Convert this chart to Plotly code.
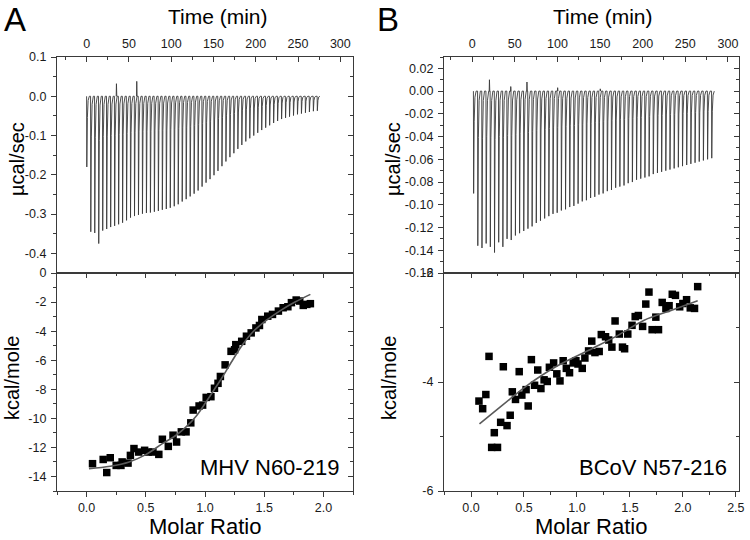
import plotly.graph_objects as go

# ---------------- data ----------------
# Panel A raw thermogram (MHV N60-219): injection times (min) and peak power (ucal/sec)
timeA = [0.0, 4.7, 9.4, 14.1, 18.8, 23.5, 28.2, 32.9, 37.6, 42.3, 47.0, 51.7, 56.4, 61.1, 65.8,
         70.5, 75.2, 79.9, 84.6, 89.3, 94.0, 98.7, 103.4, 108.1, 112.8, 117.5, 122.2, 126.9,
         131.6, 136.3, 141.0, 145.7, 150.4, 155.1, 159.8, 164.5, 169.2, 173.9, 178.6, 183.3,
         188.0, 192.7, 197.4, 202.1, 206.8, 211.5, 216.2, 220.9, 225.6, 230.3, 235.0, 239.7,
         244.4, 249.1, 253.8, 258.5, 263.2, 267.9, 272.6]
peakA = [-0.180, -0.345, -0.348, -0.375, -0.342, -0.338, -0.333, -0.330, -0.326, -0.322, -0.316,
         -0.309, -0.305, -0.302, -0.299, -0.297, -0.296, -0.294, -0.292, -0.289, -0.287, -0.284,
         -0.280, -0.275, -0.268, -0.262, -0.255, -0.248, -0.240, -0.230, -0.220, -0.211, -0.201,
         -0.190, -0.178, -0.166, -0.155, -0.145, -0.134, -0.124, -0.115, -0.107, -0.100, -0.093,
         -0.086, -0.080, -0.074, -0.068, -0.063, -0.058, -0.055, -0.052, -0.049, -0.046, -0.044,
         -0.042, -0.040, -0.038, -0.037]
artTimeA = [35.0, 59.0]
artValA = [0.032, 0.038]

# Panel B raw thermogram (BCoV N57-216)
timeB = [1.5, 6.4, 11.3, 16.2, 21.1, 26.0, 30.9, 35.8, 40.7, 45.6, 50.5, 55.4, 60.3, 65.2, 70.1,
         75.0, 79.9, 84.8, 89.7, 94.6, 99.5, 104.4, 109.3, 114.2, 119.1, 124.0, 128.9, 133.8,
         138.7, 143.6, 148.5, 153.4, 158.3, 163.2, 168.1, 173.0, 177.9, 182.8, 187.7, 192.6,
         197.5, 202.4, 207.3, 212.2, 217.1, 222.0, 226.9, 231.8, 236.7, 241.6, 246.5, 251.4,
         256.3, 261.2, 266.1, 271.0, 275.9, 280.8]
peakB = [-0.090, -0.136, -0.138, -0.134, -0.137, -0.142, -0.133, -0.137, -0.130, -0.131, -0.127,
         -0.125, -0.123, -0.121, -0.119, -0.116, -0.114, -0.112, -0.110, -0.108, -0.107, -0.105,
         -0.104, -0.102, -0.101, -0.099, -0.097, -0.096, -0.094, -0.093, -0.091, -0.090, -0.088,
         -0.087, -0.085, -0.084, -0.083, -0.081, -0.080, -0.078, -0.077, -0.076, -0.075, -0.073,
         -0.072, -0.071, -0.070, -0.069, -0.068, -0.067, -0.066, -0.065, -0.064, -0.063, -0.062,
         -0.061, -0.060, -0.059]
artTimeB = [20.0, 45.0, 64.0, 100.0, 150.0]
artValB = [0.010, 0.004, 0.008, 0.003, 0.002]

# Integrated heats
ratioA = [0.05, 0.14, 0.17, 0.20, 0.25, 0.29, 0.30, 0.35, 0.37, 0.40, 0.44, 0.49, 0.52, 0.56,
          0.61, 0.64, 0.69, 0.73, 0.76, 0.80, 0.84, 0.88, 0.90, 0.95, 0.98, 1.01, 1.05, 1.08,
          1.11, 1.13, 1.17, 1.22, 1.25, 1.26, 1.31, 1.35, 1.39, 1.43, 1.46, 1.48, 1.53, 1.57,
          1.62, 1.66, 1.70, 1.73, 1.77, 1.80, 1.83, 1.86, 1.89]
heatA = [-13.12, -12.83, -13.73, -12.71, -13.24, -13.24, -13.0, -13.08, -12.55, -12.08, -12.32,
         -12.2, -12.32, -12.32, -12.48, -11.44, -11.93, -11.16, -11.63, -10.93, -10.93, -10.31,
         -9.43, -9.15, -9.09, -8.56, -8.51, -7.93, -7.59, -7.12, -6.32, -5.39, -5.28, -4.93,
         -4.7, -4.35, -4.12, -3.78, -3.61, -3.2, -2.97, -2.85, -2.62, -2.39, -2.32, -2.04,
         -1.86, -1.93, -2.23, -2.16, -2.11]
fitAx = [0.02, 0.2, 0.36, 0.5, 0.64, 0.75, 0.84, 0.93, 1.01, 1.08, 1.15, 1.24, 1.32, 1.41,
         1.52, 1.63, 1.76, 1.89]
fitAy = [-13.47, -13.3, -13.0, -12.5, -11.74, -11.2, -10.59, -9.8, -8.86, -8.0, -7.12, -5.9,
         -4.9, -4.01, -3.25, -2.62, -2.0, -1.47]

ratioB = [0.075, 0.11, 0.14, 0.17, 0.22, 0.195, 0.25, 0.28, 0.305, 0.34, 0.37, 0.39, 0.42,
          0.455, 0.48, 0.52, 0.54, 0.57, 0.60, 0.63, 0.66, 0.69, 0.72, 0.74, 0.78, 0.81, 0.84,
          0.87, 0.90, 0.93, 0.965, 0.99, 1.01, 1.05, 1.075, 1.11, 1.14, 1.17, 1.21, 1.23, 1.27,
          1.30, 1.33, 1.36, 1.40, 1.43, 1.45, 1.48, 1.52, 1.55, 1.58, 1.62, 1.65, 1.68, 1.71,
          1.745, 1.77, 1.805, 1.84, 1.87, 1.90, 1.93, 1.97, 2.00, 2.035, 2.07, 2.11, 2.14]
heatB = [-4.35, -4.49, -4.23, -3.53, -4.93, -5.20, -5.20, -4.74, -3.72, -4.80, -4.61, -4.18,
         -4.32, -3.81, -4.24, -4.14, -4.44, -3.59, -4.06, -3.78, -4.12, -3.96, -3.99, -3.73,
         -3.65, -3.85, -3.98, -3.61, -3.75, -3.83, -3.65, -3.61, -3.67, -3.75, -3.56, -3.43,
         -3.25, -3.46, -3.44, -3.13, -3.17, -3.23, -3.36, -2.88, -3.12, -3.36, -3.39, -3.12,
         -2.96, -2.80, -2.78, -2.98, -2.57, -2.35, -3.04, -2.81, -3.04, -2.54, -2.65, -2.60,
         -2.39, -2.41, -2.62, -2.56, -2.49, -2.64, -2.65, -2.25]
fitBx = [0.08, 0.3, 0.525, 0.8, 1.15, 1.4, 1.63, 1.9, 2.14]
fitBy = [-4.77, -4.42, -4.07, -3.72, -3.38, -3.13, -2.87, -2.68, -2.51]

# ticks
timeTicks = [0, 50, 100, 150, 200, 250, 300]
timeMinor = [-25, 25, 75, 125, 175, 225, 275]
yA1ticks = [0.1, 0.0, -0.1, -0.2, -0.3, -0.4]
yA1text = ["0.1", "0.0", "-0.1", "-0.2", "-0.3", "-0.4"]
yA1minor = [0.05, -0.05, -0.15, -0.25, -0.35, -0.45]
yA2ticks = [0, -2, -4, -6, -8, -10, -12, -14]
yA2text = ["0", "-2", "-4", "-6", "-8", "-10", "-12", "-14"]
yA2minor = [-1, -3, -5, -7, -9, -11, -13, -15]
xA2ticks = [0.0, 0.5, 1.0, 1.5, 2.0]
xA2text = ["0.0", "0.5", "1.0", "1.5", "2.0"]
xMinor = [-0.25, 0.25, 0.75, 1.25, 1.75, 2.25]
yB1ticks = [0.02, 0.0, -0.02, -0.04, -0.06, -0.08, -0.10, -0.12, -0.14, -0.16]
yB1text = ["0.02", "0.00", "-0.02", "-0.04", "-0.06", "-0.08", "-0.10", "-0.12", "-0.14", "-0.16"]
yB1minor = [0.03, 0.01, -0.01, -0.03, -0.05, -0.07, -0.09, -0.11, -0.13, -0.15]
yB2ticks = [-2, -4, -6]
yB2text = ["-2", "-4", "-6"]
yB2minor = [-3, -5]
xB2ticks = [0.0, 0.5, 1.0, 1.5, 2.0, 2.5]
xB2text = ["0.0", "0.5", "1.0", "1.5", "2.0", "2.5"]

# ---------------- helpers ----------------
W, H = 750, 540
FONT = "Liberation Sans, Arial, Helvetica, sans-serif"
AXC = "#3a3a3a"
TXT = "#1a1a1a"


def px(x):
    return x / W


def py(y):
    return 1 - y / H


def thermo(times, peaks):
    xs, ys = [], []
    for t, p in zip(times, peaks):
        xs += [t, t + 0.25, t + 0.9, t + 1.8, t + 3.2]
        ys += [0, p, p * 0.3, p * 0.06, 0]
    return xs, ys


def artifacts(times, vals):
    xs, ys = [], []
    for t, v in zip(times, vals):
        xs += [t, t + 0.3, t + 0.7, None]
        ys += [0, v, 0, None]
    return xs, ys


def axis(rng, ticks=None, text=None, minor=None, tickdir="outside", labels=True, side=None,
         domain=None, anchor=None, overlaying=None, standoff=3):
    d = dict(range=rng, showgrid=False, zeroline=False, showline=True, linecolor=AXC,
             linewidth=1.3, mirror=True, ticks=tickdir, ticklen=5, tickwidth=1.2,
             tickcolor=AXC, showticklabels=labels, fixedrange=True, automargin=False,
             tickfont=dict(family=FONT, size=12.5, color=TXT))
    if ticks is not None:
        d.update(tickmode="array", tickvals=ticks, ticktext=text if text else [str(t) for t in ticks])
    if minor is not None:
        d["minor"] = dict(tickmode="array", tickvals=minor, ticks=tickdir, ticklen=3,
                          tickwidth=1.1, tickcolor=AXC)
    if labels:
        d["ticklabelstandoff"] = standoff
    if side:
        d["side"] = side
    if domain:
        d["domain"] = domain
    if anchor:
        d["anchor"] = anchor
    if overlaying:
        d["overlaying"] = overlaying
    return d


xdomA = [px(57), px(353)]
xdomB = [px(444), px(739)]
ydomTop = [py(273), py(57)]
ydomBot = [py(491), py(273)]

rTA = [-35, 315]
rTB = [-33, 313]
rYA1 = [-0.45, 0.1]
rYA2 = [-15, 0]
rXA2 = [-0.25, 2.25]
rYB1 = [-0.16, 0.03]
rYB2 = [-6, -2]
rXB2 = [-0.255, 2.53]

fig = go.Figure()
LINE = dict(color="#3a3a3a", width=0.9)

# Panel A thermogram
xa, ya = thermo(timeA, peakA)
fig.add_trace(go.Scatter(x=xa, y=ya, mode="lines", line=LINE, xaxis="x", yaxis="y",
                         hoverinfo="skip"))
xa, ya = artifacts(artTimeA, artValA)
fig.add_trace(go.Scatter(x=xa, y=ya, mode="lines", line=LINE, xaxis="x", yaxis="y",
                         hoverinfo="skip"))
# Panel A isotherm
fig.add_trace(go.Scatter(x=ratioA, y=heatA, mode="markers",
                         marker=dict(symbol="square", size=7.5, color="black"),
                         xaxis="x2", yaxis="y2"))
fig.add_trace(go.Scatter(x=fitAx, y=fitAy, mode="lines", line=dict(color="#5a5a5a", width=1.6,
                         shape="spline"), xaxis="x2", yaxis="y2"))

# Panel B thermogram
xb, yb = thermo(timeB, peakB)
fig.add_trace(go.Scatter(x=xb, y=yb, mode="lines", line=LINE, xaxis="x3", yaxis="y3",
                         hoverinfo="skip"))
xb, yb = artifacts(artTimeB, artValB)
fig.add_trace(go.Scatter(x=xb, y=yb, mode="lines", line=LINE, xaxis="x3", yaxis="y3",
                         hoverinfo="skip"))
# Panel B isotherm
fig.add_trace(go.Scatter(x=ratioB, y=heatB, mode="markers",
                         marker=dict(symbol="square", size=7.5, color="black"),
                         xaxis="x4", yaxis="y4"))
fig.add_trace(go.Scatter(x=fitBx, y=fitBy, mode="lines", line=dict(color="#5a5a5a", width=1.6,
                         shape="spline"), xaxis="x4", yaxis="y4"))

# dummy traces so the overlay (mirror-tick) axes get drawn
for xa_, ya_, xv, yv in [("x", "y5", 0, 0), ("x2", "y6", 0, -5), ("x3", "y7", 0, 0),
                         ("x4", "y8", 0, -4), ("x5", "y2", 0, -5), ("x6", "y4", 0, -4)]:
    fig.add_trace(go.Scatter(x=[xv], y=[yv], mode="markers", marker=dict(opacity=0),
                             xaxis=xa_, yaxis=ya_, hoverinfo="skip"))

layout = dict(
    width=W, height=H, margin=dict(l=0, r=0, t=0, b=0, autoexpand=False), showlegend=False,
    paper_bgcolor="white", plot_bgcolor="white",
    font=dict(family=FONT, color=TXT),
    # Panel A top
    xaxis=axis(rTA, timeTicks, None, timeMinor, "inside", True, "top", xdomA, "y", standoff=3),
    yaxis=axis(rYA1, yA1ticks, yA1text, yA1minor, "outside", True, None, ydomTop, "x", standoff=2),
    yaxis5=axis(rYA1, yA1ticks, yA1text, yA1minor, "inside", False, "right", None, "x", "y"),
    # Panel A bottom
    xaxis2=axis(rXA2, xA2ticks, xA2text, xMinor, "outside", True, None, xdomA, "y2", standoff=0),
    yaxis2=axis(rYA2, yA2ticks, yA2text, yA2minor, "outside", True, None, ydomBot, "x2", standoff=2),
    yaxis6=axis(rYA2, yA2ticks, yA2text, yA2minor, "inside", False, "right", None, "x2", "y2"),
    xaxis5=axis(rXA2, xA2ticks, xA2text, xMinor, "inside", False, "top", None, "y2", "x2"),
    # Panel B top
    xaxis3=axis(rTB, timeTicks, None, timeMinor, "inside", True, "top", xdomB, "y3", standoff=3),
    yaxis3=axis(rYB1, yB1ticks, yB1text, yB1minor, "outside", True, None, ydomTop, "x3", standoff=2),
    yaxis7=axis(rYB1, yB1ticks, yB1text, yB1minor, "inside", False, "right", None, "x3", "y3"),
    # Panel B bottom
    xaxis4=axis(rXB2, xB2ticks, xB2text, xMinor, "outside", True, None, xdomB, "y4", standoff=0),
    yaxis4=axis(rYB2, yB2ticks, yB2text, yB2minor, "outside", True, None, ydomBot, "x4", standoff=2),
    yaxis8=axis(rYB2, yB2ticks, yB2text, yB2minor, "inside", False, "right", None, "x4", "y4"),
    xaxis6=axis(rXB2, xB2ticks, xB2text, xMinor, "inside", False, "top", None, "y4", "x4"),
)
fig.update_layout(**layout)


def ann(text, x, y, size, rot=0, xanchor="center"):
    fig.add_annotation(text=text, x=px(x), y=py(y), xref="paper", yref="paper",
                       showarrow=False, textangle=rot, xanchor=xanchor, yanchor="middle",
                       font=dict(family=FONT, size=size, color="black"))


ann("A", 15, 20, 33)
ann("B", 388, 20, 33)
ann("Time (min)", 218, 16, 21)
ann("Time (min)", 603, 16, 21)
ann("µcal/sec", 17, 159, 20, -90)
ann("µcal/sec", 393, 159, 20, -90)
ann("kcal/mole", 12, 378, 20, -90)
ann("kcal/mole", 389, 378, 20, -90)
ann("Molar Ratio", 205, 526, 22)
ann("Molar Ratio", 591, 526, 22)
ann("MHV N60-219", 341, 467, 22, xanchor="right")
ann("BCoV N57-216", 729, 467, 22, xanchor="right")

fig.write_html("out.html", config={"displayModeBar": False},
               post_script="document.body.style.margin='0px';document.body.style.overflow='hidden';")
